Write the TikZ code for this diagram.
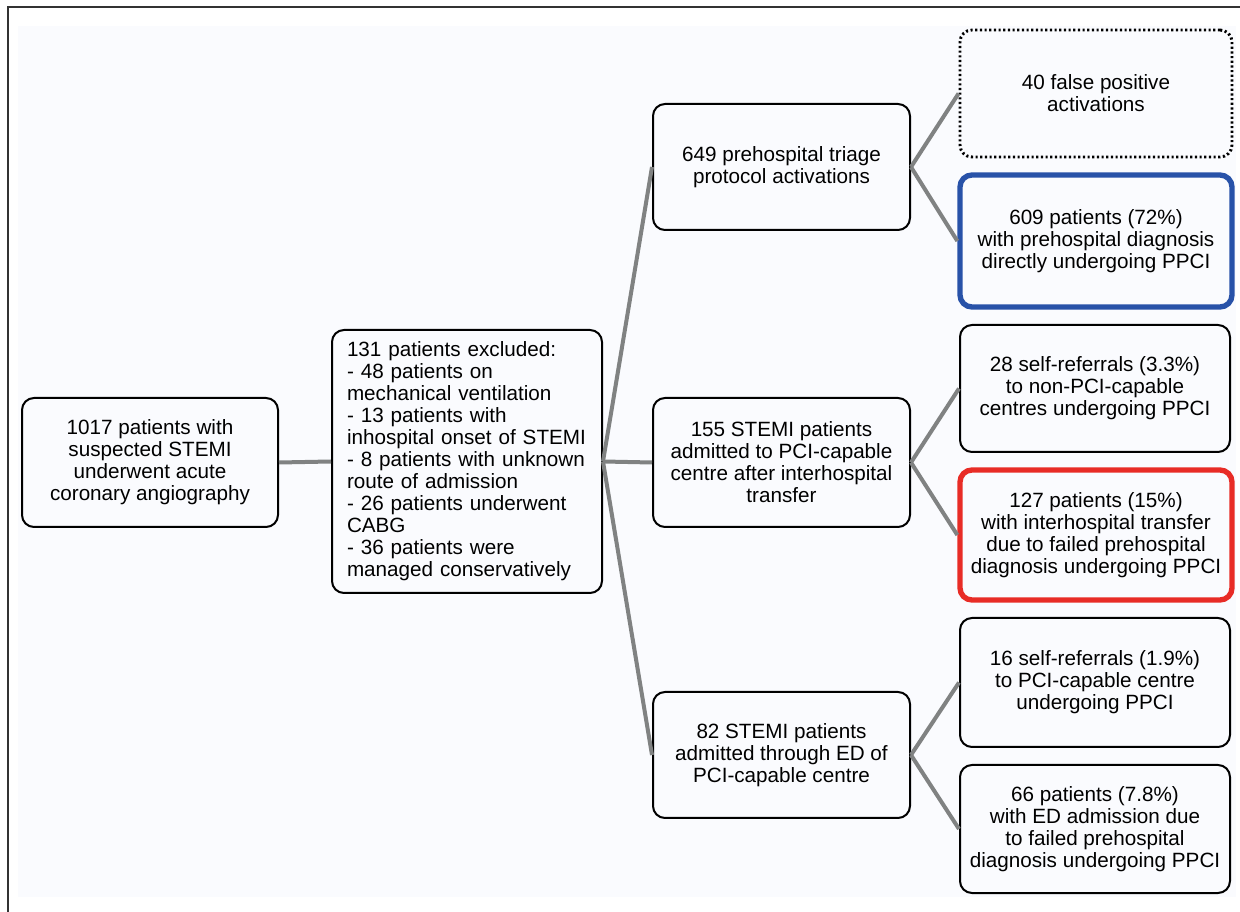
\documentclass[tikz,border=0pt]{standalone}
\usepackage{fontspec}
\setmainfont{Liberation Sans}
\definecolor{linegray}{RGB}{128,130,130}
\definecolor{boxblue}{RGB}{40,82,168}
\definecolor{boxred}{RGB}{232,44,38}
\definecolor{bgtint}{RGB}{250,251,254}
\begin{document}
\begin{tikzpicture}[x=0.75pt,y=-0.75pt,
  box/.style={draw=black, line width=1.5pt, rounded corners=9pt, align=center,
    inner sep=0pt, font=\fontsize{15.5}{16.5}\selectfont},
  bluebox/.style={box, draw=boxblue, line width=4pt},
  redbox/.style={box, draw=boxred, line width=4pt},
  dotbox/.style={box, line width=2.2pt, dash pattern=on 1.6pt off 1.9pt},
  conn/.style={draw=linegray, line width=3pt},
  frameline/.style={draw=black!80, line width=1.5pt}]
\useasboundingbox (0,0) rectangle (1240,912);
\fill[bgtint] (18,26) rectangle (1236,897);
\draw[frameline] (8,912) -- (8,7) -- (1240,7);

\node[box, minimum width=192pt, minimum height=96.75pt] (A) at (150,462.5)
  {1017 patients with\\suspected STEMI\\underwent acute\\coronary angiography};
\node[box, align=left, text width=180pt, minimum width=202.5pt, minimum height=197.25pt] (B) at (467,461.5)
  {131 patients excluded:\\- 48 patients on\\mechanical ventilation\\- 13 patients with\\inhospital onset of STEMI\\- 8 patients with unknown\\route of admission\\- 26 patients underwent\\CABG\\- 36 patients were\\managed conservatively};
\node[box, minimum width=192.75pt, minimum height=94.5pt] (C) at (781.5,167)
  {649 prehospital triage\\protocol activations};
\node[box, minimum width=192.75pt, minimum height=96.75pt] (D) at (781.5,462.5)
  {155 STEMI patients\\admitted to PCI-capable\\centre after interhospital\\transfer};
\node[box, minimum width=192.75pt, minimum height=94.5pt] (E) at (781.5,755)
  {82 STEMI patients\\admitted through ED of\\PCI-capable centre};
\node[dotbox, minimum width=204pt, minimum height=95.25pt] (F) at (1096,93.5)
  {40 false positive\\activations};
\node[bluebox, minimum width=204pt, minimum height=99pt] (G) at (1096,241)
  {609 patients (72\%)\\with prehospital diagnosis\\directly undergoing PPCI};
\node[box, minimum width=202.5pt, minimum height=95.25pt] (H) at (1095,388.5)
  {28 self-referrals (3.3\%)\\to non-PCI-capable\\centres undergoing PPCI};
\node[redbox, minimum width=204pt, minimum height=97.5pt] (I) at (1096,535)
  {127 patients (15\%)\\with interhospital transfer\\due to failed prehospital\\diagnosis undergoing PPCI};
\node[box, minimum width=202.5pt, minimum height=96.75pt] (J) at (1095,682.5)
  {16 self-referrals (1.9\%)\\to PCI-capable centre\\undergoing PPCI};
\node[box, minimum width=202.5pt, minimum height=96pt] (K) at (1095,829)
  {66 patients (7.8\%)\\with ED admission due\\to failed prehospital\\diagnosis undergoing PPCI};

\draw[conn] (A.east) -- (B.west);
\draw[conn] (B.east) -- (C.west);
\draw[conn] (B.east) -- (D.west);
\draw[conn] (B.east) -- (E.west);
\draw[conn] (C.east) -- (F.west);
\draw[conn] (C.east) -- (G.west);
\draw[conn] (D.east) -- (H.west);
\draw[conn] (D.east) -- (I.west);
\draw[conn] (E.east) -- (J.west);
\draw[conn] (E.east) -- (K.west);
\end{tikzpicture}
\end{document}
